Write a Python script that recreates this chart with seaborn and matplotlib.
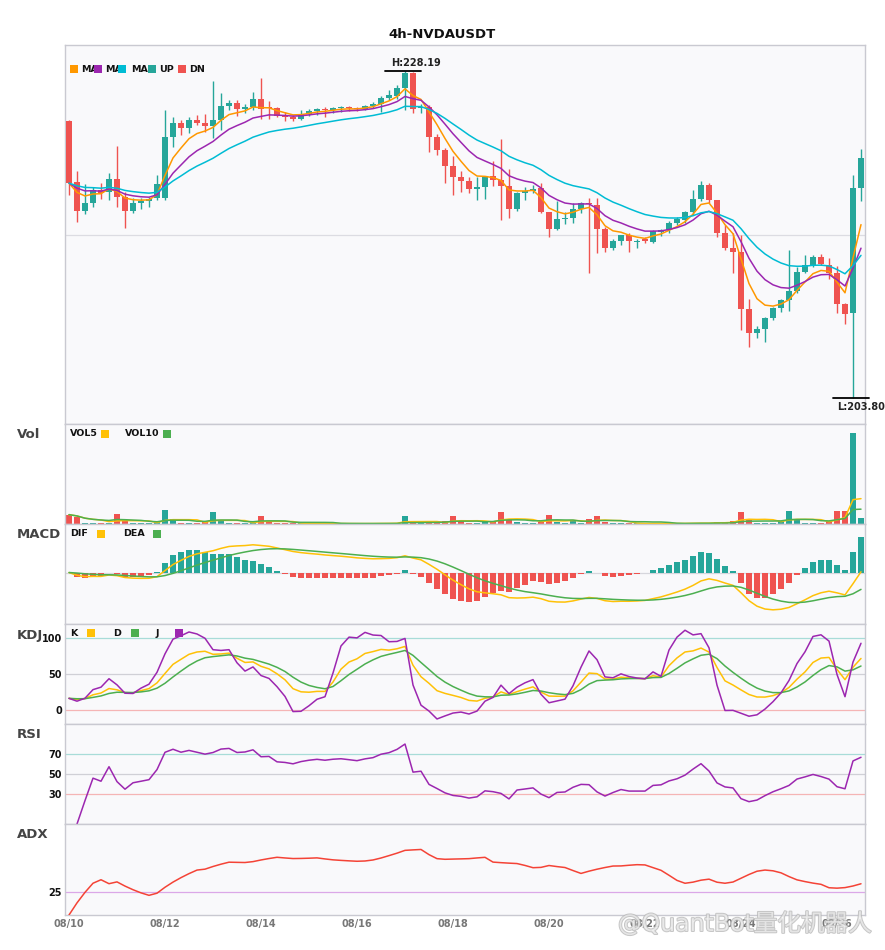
import numpy as np
import pandas as pd
import matplotlib
matplotlib.use("Agg")
import matplotlib.pyplot as plt
import matplotlib.patheffects as pe
from matplotlib.patches import Rectangle
import seaborn as sns

sns.set_theme(style="white")
plt.rcParams['font.family'] = ['DejaVu Sans', 'Noto Sans CJK SC']

# ---------------- data ----------------
symbol = "4h-NVDAUSDT"
date_labels = ["08/10", "08/12", "08/14", "08/16", "08/18", "08/20", "08/22", "08/24", "08/26"]

opens = [224.46, 219.91, 217.75, 218.34, 219.31, 219.16, 220.13, 218.79, 217.75, 218.34,
         218.49, 218.72, 218.72, 223.27, 224.31, 223.94, 224.53, 224.31, 224.09, 224.53,
         225.58, 225.80, 225.36, 225.50, 226.10, 225.50, 225.43, 224.83, 224.76, 224.61,
         224.98, 225.21, 225.36, 225.28, 225.43, 225.50, 225.43, 225.36, 225.58, 225.73,
         226.18, 226.33, 226.92, 228.04, 225.43, 225.50, 223.27, 222.30, 221.10, 220.28,
         219.98, 219.39, 219.54, 220.36, 220.06, 219.61, 217.90, 219.09, 219.24, 219.46,
         217.67, 216.40, 217.15, 217.22, 217.90, 218.34, 218.19, 216.40, 214.99, 215.51,
         215.96, 215.43, 215.66, 215.43, 216.18, 216.33, 216.85, 217.07, 217.67, 218.64,
         219.69, 218.57, 216.10, 214.99, 214.69, 210.44, 208.64, 208.94, 209.76, 210.51,
         211.11, 211.78, 213.20, 213.72, 214.31, 213.72, 213.12, 210.81, 210.14, 219.46]

highs = [224.53, 220.73, 219.76, 219.54, 219.83, 220.58, 222.60, 219.16, 218.72, 218.72,
         218.79, 220.43, 225.28, 224.76, 224.53, 224.76, 224.91, 224.98, 227.44, 226.55,
         226.03, 226.03, 225.73, 226.62, 227.67, 225.95, 225.50, 225.13, 224.91, 225.28,
         225.36, 225.43, 225.50, 225.50, 225.58, 225.58, 225.50, 225.65, 225.88, 226.33,
         226.77, 227.15, 228.19, 228.12, 225.73, 225.65, 223.49, 222.45, 221.85, 220.73,
         220.28, 220.28, 220.28, 221.48, 223.12, 220.88, 219.16, 219.54, 219.69, 219.83,
         217.67, 218.49, 217.67, 218.34, 218.42, 218.72, 218.72, 216.55, 215.66, 215.96,
         216.10, 215.66, 215.81, 216.33, 216.40, 217.00, 217.30, 217.75, 219.31, 219.98,
         219.83, 218.57, 216.70, 216.10, 215.96, 211.18, 209.17, 209.84, 210.58, 211.18,
         214.84, 213.57, 214.46, 214.46, 214.54, 214.24, 213.64, 210.88, 220.43, 222.37]

lows = [218.94, 216.93, 217.52, 218.04, 218.64, 218.57, 218.04, 216.48, 217.60, 217.90,
        218.04, 218.57, 218.57, 222.52, 223.42, 223.56, 224.16, 223.64, 223.19, 223.79,
        225.28, 224.83, 225.06, 225.28, 224.61, 224.61, 224.76, 224.46, 224.46, 224.53,
        224.83, 224.91, 224.76, 225.06, 225.13, 225.21, 225.21, 225.28, 225.43, 225.13,
        226.03, 226.10, 225.28, 225.06, 225.06, 222.15, 221.92, 219.83, 218.94, 219.16,
        219.09, 218.57, 218.64, 219.61, 217.07, 217.22, 217.75, 218.57, 219.09, 217.60,
        215.81, 216.33, 216.78, 216.85, 217.60, 213.12, 214.61, 214.69, 214.84, 215.21,
        214.69, 214.99, 215.36, 215.36, 215.88, 216.10, 216.70, 216.85, 217.45, 218.49,
        218.34, 215.81, 214.84, 213.12, 208.87, 207.60, 208.27, 207.97, 209.61, 210.21,
        210.29, 211.63, 213.12, 213.57, 213.72, 212.67, 210.14, 209.32, 203.80, 218.49]

closes = [219.83, 217.75, 218.34, 219.31, 219.09, 220.13, 218.79, 217.75, 218.34, 218.49,
          218.64, 219.76, 223.27, 224.31, 223.94, 224.53, 224.31, 224.09, 224.53, 225.58,
          225.80, 225.36, 225.50, 226.10, 225.36, 225.43, 224.83, 224.76, 224.61, 224.98,
          225.21, 225.36, 225.28, 225.43, 225.50, 225.43, 225.36, 225.58, 225.73, 226.18,
          226.40, 226.92, 228.04, 225.36, 225.50, 223.27, 222.30, 221.10, 220.28, 219.98,
          219.39, 219.54, 220.28, 220.06, 219.61, 217.90, 219.09, 219.24, 219.39, 217.67,
          216.40, 217.15, 217.22, 217.90, 218.34, 218.27, 216.40, 214.99, 215.51, 215.96,
          215.51, 215.51, 215.51, 216.25, 216.33, 216.85, 217.15, 217.67, 218.64, 219.69,
          218.57, 216.10, 214.99, 214.69, 210.44, 208.64, 208.94, 209.76, 210.51, 211.11,
          211.78, 213.20, 213.72, 214.31, 213.79, 213.12, 210.81, 210.06, 219.46, 221.70]

volumes = [9.3, 6.7, 1.3, 1.3, 1.3, 1.3, 10.3, 2.7, 1.0, 0.7,
           0.7, 1.7, 13.7, 4.7, 0.7, 0.7, 0.7, 1.7, 12.3, 2.7,
           0.7, 0.7, 0.7, 1.7, 8.3, 1.7, 0.7, 0.7, 0.7, 0.6,
           0.5, 0.5, 0.5, 0.5, 0.4, 0.4, 0.4, 0.5, 0.6, 0.8,
           0.7, 1.0, 8.3, 1.0, 1.0, 1.0, 1.0, 3.3, 8.3, 2.7,
           0.7, 1.3, 2.3, 3.3, 12.3, 5.3, 2.3, 1.3, 0.7, 2.3,
           9.3, 2.3, 0.7, 3.0, 0.7, 5.3, 8.3, 2.3, 0.7, 0.5,
           0.7, 0.5, 0.5, 0.6, 0.7, 0.6, 0.5, 0.5, 1.3, 1.3,
           0.7, 2.3, 0.7, 3.3, 12.3, 5.0, 1.3, 1.3, 1.3, 2.7,
           13.3, 4.3, 1.3, 1.3, 1.3, 2.7, 13.3, 13.3, 90.3, 6.3]

n = min(len(opens), len(highs), len(lows), len(closes), len(volumes))
df = pd.DataFrame({"open": opens[:n], "high": highs[:n], "low": lows[:n],
                   "close": closes[:n], "volume": volumes[:n]})
df["idx"] = np.arange(n)

# ---------------- indicators ----------------
c, h, l = df["close"], df["high"], df["low"]
df["ma5"] = c.ewm(span=5, adjust=False).mean()
df["ma10"] = c.ewm(span=10, adjust=False).mean()
df["ma20"] = c.ewm(span=20, adjust=False).mean()
df["vol5"] = df["volume"].rolling(5, min_periods=1).mean()
df["vol10"] = df["volume"].rolling(10, min_periods=1).mean()

ema12 = c.ewm(span=12, adjust=False).mean()
ema26 = c.ewm(span=26, adjust=False).mean()
df["dif"] = ema12 - ema26
df["dea"] = df["dif"].ewm(span=9, adjust=False).mean()
df["hist"] = 2 * (df["dif"] - df["dea"])

low9 = l.rolling(9, min_periods=1).min()
high9 = h.rolling(9, min_periods=1).max()
rsv = ((c - low9) / (high9 - low9) * 100).fillna(50)
df["K"] = rsv.ewm(com=2, adjust=False).mean()
df["D"] = df["K"].ewm(com=2, adjust=False).mean()
df["J"] = 3 * df["K"] - 2 * df["D"]

delta = c.diff()
gain = delta.clip(lower=0)
loss = (-delta).clip(lower=0)
ag = gain.ewm(alpha=1 / 14).mean()
al = loss.ewm(alpha=1 / 14).mean()
df["rsi"] = 100 * ag / (ag + al)

prev_c = c.shift(1)
tr = pd.concat([h - l, (h - prev_c).abs(), (l - prev_c).abs()], axis=1).max(axis=1)
up_move = h.diff()
dn_move = -l.diff()
pdm = pd.Series(np.where((up_move > dn_move) & (up_move > 0), up_move, 0.0))
mdm = pd.Series(np.where((dn_move > up_move) & (dn_move > 0), dn_move, 0.0))
atr = tr.ewm(span=14, adjust=False).mean()
pdi = 100 * pdm.ewm(span=14, adjust=False).mean() / atr
mdi = 100 * mdm.ewm(span=14, adjust=False).mean() / atr
dx = (100 * (pdi - mdi).abs() / (pdi + mdi)).fillna(0)
df["adx"] = dx.ewm(span=14, adjust=False).mean()

# ---------------- styling ----------------
UP = "#26a69a"
DN = "#ef5350"
BG = "#f9f9fb"
SPINE = "#c9c9d1"
W, H = 885, 950

fig = plt.figure(figsize=(8.85, 9.5), dpi=100)
fig.patch.set_facecolor("white")

def fx(px):
    return px / W

def fy(py):
    return 1 - py / H

def add_axes(top, bottom):
    ax = fig.add_axes([fx(65), fy(bottom), fx(865) - fx(65), (bottom - top) / H])
    ax.set_facecolor(BG)
    for s in ax.spines.values():
        s.set_color(SPINE)
        s.set_linewidth(1.0)
    ax.set_xlim(-0.5, n - 0.5)
    ax.tick_params(axis="both", length=0, pad=2)
    ax.set_xticks([])
    ax.set_yticks([])
    return ax

ax_main = add_axes(45, 424)
ax_vol = add_axes(424, 524)
ax_macd = add_axes(524, 624)
ax_kdj = add_axes(624, 724)
ax_rsi = add_axes(724, 824)
ax_adx = add_axes(824, 915)

up = df["close"] >= df["open"]
colors = np.where(up, UP, DN)

# ---- main candles ----
rng = df["high"].max() - df["low"].min()
body_low = np.minimum(df["open"], df["close"])
body_h = np.maximum((df["close"] - df["open"]).abs(), rng * 0.004)
ax_main.vlines(df["idx"], df["low"], df["high"], colors=colors, linewidth=1.0, zorder=2)
ax_main.bar(df["idx"], body_h, bottom=body_low, width=0.72, color=colors, linewidth=0, zorder=3)

sns.lineplot(data=df, x="idx", y="ma5", ax=ax_main, color="#ff9800", linewidth=1.1, zorder=4, legend=False)
sns.lineplot(data=df, x="idx", y="ma10", ax=ax_main, color="#9c27b0", linewidth=1.1, zorder=4, legend=False)
sns.lineplot(data=df, x="idx", y="ma20", ax=ax_main, color="#00bcd4", linewidth=1.1, zorder=4, legend=False)

hi_val, lo_val = df["high"].max(), df["low"].min()
pad = rng * 0.08
ax_main.set_ylim(lo_val - pad, hi_val + pad)
ax_main.axhline((lo_val + hi_val) / 2, color="#dcdce2", linewidth=0.9, zorder=1)

hi_i = int(df["high"].idxmax())
lo_i = int(df["low"].idxmin())
ax_main.plot([hi_i - 2.5, hi_i + 2.0], [hi_val, hi_val], color="black", linewidth=1.3, clip_on=False, zorder=5)
ax_main.annotate(f"H:{hi_val:.2f}", xy=(hi_i + 1.4, hi_val), xytext=(0, 2), textcoords="offset points",
                 ha="center", va="bottom", fontsize=7, fontweight="bold", color="#222222")
ax_main.plot([lo_i - 2.5, lo_i + 2.0], [lo_val, lo_val], color="black", linewidth=1.3, clip_on=False, zorder=5)
ax_main.annotate(f"L:{lo_val:.2f}", xy=(lo_i + 1.0, lo_val), xytext=(0, -3), textcoords="offset points",
                 ha="center", va="top", fontsize=7, fontweight="bold", color="#222222", annotation_clip=False)

# ---- volume ----
ax_vol.bar(df["idx"], df["volume"], width=0.72, color=colors, linewidth=0, zorder=2)
sns.lineplot(data=df, x="idx", y="vol5", ax=ax_vol, color="#ffc107", linewidth=1.1, zorder=3, legend=False)
sns.lineplot(data=df, x="idx", y="vol10", ax=ax_vol, color="#4caf50", linewidth=1.1, zorder=3, legend=False)
ax_vol.set_ylim(0, df["volume"].max() * 1.1)

# ---- MACD ----
hcol = np.where(df["hist"] >= 0, UP, DN)
ax_macd.bar(df["idx"], df["hist"], width=0.72, color=hcol, linewidth=0, zorder=2)
ax_macd.axhline(0, color="#d6d6dc", linewidth=0.9, zorder=1)
sns.lineplot(data=df, x="idx", y="dif", ax=ax_macd, color="#ffc107", linewidth=1.1, zorder=3, legend=False)
sns.lineplot(data=df, x="idx", y="dea", ax=ax_macd, color="#4caf50", linewidth=1.1, zorder=3, legend=False)
m_hi = max(df["hist"].max(), df["dif"].max(), df["dea"].max())
m_lo = min(df["hist"].min(), df["dif"].min(), df["dea"].min())
ax_macd.set_ylim(m_lo * 1.38, m_hi * 1.38)

# ---- KDJ ----
ax_kdj.axhline(100, color="#a8dcd8", linewidth=0.9, zorder=1)
ax_kdj.axhline(50, color="#d0d0d6", linewidth=0.9, zorder=1)
ax_kdj.axhline(0, color="#f5b5b5", linewidth=0.9, zorder=1)
sns.lineplot(data=df, x="idx", y="K", ax=ax_kdj, color="#ffc107", linewidth=1.1, zorder=3, legend=False)
sns.lineplot(data=df, x="idx", y="D", ax=ax_kdj, color="#4caf50", linewidth=1.1, zorder=3, legend=False)
sns.lineplot(data=df, x="idx", y="J", ax=ax_kdj, color="#9c27b0", linewidth=1.1, zorder=3, legend=False)
ax_kdj.set_ylim(-20, 120)
ax_kdj.set_yticks([0, 50, 100])

# ---- RSI ----
ax_rsi.axhline(70, color="#a8dcd8", linewidth=0.9, zorder=1)
ax_rsi.axhline(50, color="#d0d0d6", linewidth=0.9, zorder=1)
ax_rsi.axhline(30, color="#f5b5b5", linewidth=0.9, zorder=1)
sns.lineplot(data=df, x="idx", y="rsi", ax=ax_rsi, color="#9c27b0", linewidth=1.1, zorder=3, legend=False)
ax_rsi.set_ylim(0, 100)
ax_rsi.set_yticks([30, 50, 70])

# ---- ADX ----
ax_adx.axhline(25, color="#dba8e8", linewidth=0.9, zorder=1)
sns.lineplot(data=df, x="idx", y="adx", ax=ax_adx, color="#f44336", linewidth=1.1, zorder=3, legend=False)
ax_adx.set_ylim(0, 100)
ax_adx.set_yticks([25])

for a in [ax_main, ax_vol, ax_macd, ax_kdj, ax_rsi, ax_adx]:
    a.set_xlim(-0.5, n - 0.5)
    a.set_xlabel("")
    a.set_ylabel("")
    for lab in a.get_yticklabels():
        lab.set_fontsize(7)
        lab.set_fontweight("bold")
        lab.set_color("#111111")

ax_adx.set_xticks(np.arange(0, n, 12)[:len(date_labels)])
ax_adx.set_xticklabels(date_labels[:len(ax_adx.get_xticks())], fontsize=7, fontweight="bold", color="#777777")
ax_adx.tick_params(axis="x", length=0, pad=3)

# ---------------- texts / legends ----------------
fig.text(0.5, fy(34), symbol, ha="center", va="center", fontsize=9.5, fontweight="bold", color="#111111")

for name, py in [("Vol", 434), ("MACD", 535), ("KDJ", 635), ("RSI", 735), ("ADX", 835)]:
    fig.text(fx(17), fy(py), name, ha="left", va="center", fontsize=9.5, fontweight="bold", color="#444444")

def square(px, py, color, size=8):
    fig.add_artist(Rectangle((fx(px), fy(py + size / 2)), size / W, size / H,
                             transform=fig.transFigure, facecolor=color, edgecolor="none", zorder=10))

def label(px, py, s):
    fig.text(fx(px), fy(py), s, ha="left", va="center", fontsize=6.8, fontweight="bold",
             color="#111111", zorder=9)

# main legend (square then text)
for sx, tx, col, s in [(70, 81, "#ff9800", "MA"), (94, 105, "#9c27b0", "MA"),
                       (118, 131, "#00bcd4", "MA"), (148, 159, UP, "UP"), (178, 189, DN, "DN")]:
    square(sx, 69, col)
    label(tx, 69, s)

# indicator legends (text then square)
for tx, sx, col, s in [(70, 101, "#ffc107", "VOL5"), (125, 163, "#4caf50", "VOL10")]:
    label(tx, 434, s)
    square(sx, 434, col)
for tx, sx, col, s in [(70, 97, "#ffc107", "DIF"), (123, 153, "#4caf50", "DEA")]:
    label(tx, 534, s)
    square(sx, 534, col)
for tx, sx, col, s in [(70, 87, "#ffc107", "K"), (113, 131, "#4caf50", "D"), (156, 175, "#9c27b0", "J")]:
    label(tx, 633, s)
    square(sx, 633, col)

# watermark (semi-transparent, as in the reference)
fig.text(fx(618), fy(924), "@QuantBot量化机器人", ha="left", va="center", fontsize=17,
         color=(1, 1, 1, 0.55), family=["DejaVu Sans", "Noto Sans CJK SC"], zorder=20,
         path_effects=[pe.withStroke(linewidth=1.4, foreground=(0.72, 0.72, 0.72, 0.8))])

fig.savefig("out.png", dpi=100, facecolor="white")
